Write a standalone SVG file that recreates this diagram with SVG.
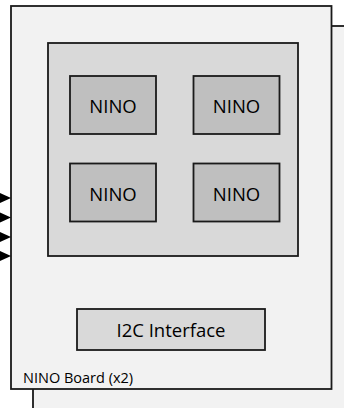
<svg xmlns="http://www.w3.org/2000/svg" width="344" height="408" viewBox="0 0 344 408">
<defs>
<style>
.b{stroke:#1a1a1a;stroke-width:1.8}
.t{font-family:"Open Sans","Liberation Sans",sans-serif;fill:#000;text-anchor:middle}
.a{fill:#000}
</style>
</defs>
<rect width="344" height="408" fill="#fff"/>
<g id="board-back">
<rect class="b" x="33" y="26" width="340" height="400" fill="#f2f2f2"/>
</g>
<g id="board-front">
<rect class="b" x="11" y="6" width="320.5" height="383" fill="#f2f2f2"/>
<text class="t" x="23" y="383" font-size="14.5" style="text-anchor:start">NINO Board (x2)</text>
</g>
<g id="nino-group">
<rect class="b" x="48" y="43" width="250" height="213" fill="#d9d9d9"/>
</g>
<g id="nino1">
<rect class="b" x="70" y="76" width="86" height="58" fill="#bfbfbf"/>
<text class="t" x="113" y="113" font-size="18.5">NINO</text>
</g>
<g id="nino2">
<rect class="b" x="193.5" y="76" width="86" height="58" fill="#bfbfbf"/>
<text class="t" x="236.5" y="113" font-size="18.5">NINO</text>
</g>
<g id="nino3">
<rect class="b" x="70" y="163.5" width="86" height="58" fill="#bfbfbf"/>
<text class="t" x="113" y="201" font-size="18.5">NINO</text>
</g>
<g id="nino4">
<rect class="b" x="193.5" y="163.5" width="86" height="58" fill="#bfbfbf"/>
<text class="t" x="236.5" y="201" font-size="18.5">NINO</text>
</g>
<g id="i2c">
<rect class="b" x="77" y="309" width="188" height="41" fill="#d9d9d9"/>
<text class="t" x="171" y="337" font-size="18.5">I2C Interface</text>
</g>
<g id="connectors">
<polygon class="a" points="0,193 11,198 0,203"/>
<polygon class="a" points="0,212.5 11,217.5 0,222.5"/>
<polygon class="a" points="0,232 11,237 0,242"/>
<polygon class="a" points="0,251 11,256 0,261"/>
</g>
</svg>
